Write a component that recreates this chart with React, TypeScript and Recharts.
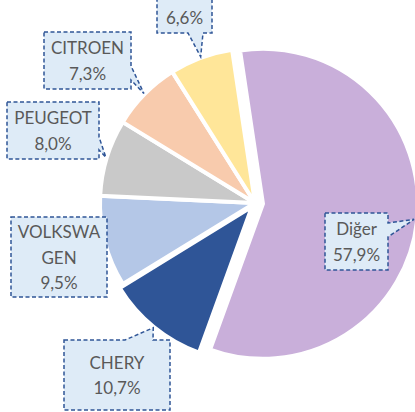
import { PieChart, Pie, Cell, Sector } from "recharts";

// market share by brand (%)
const BRANDS = ["Diğer", "CHERY", "VOLKSWAGEN", "PEUGEOT", "CITROEN", "OPEL"];
const SHARES = [57.9, 10.7, 9.5, 8.0, 7.3, 6.6];
const COLORS = ["#C9AFDA", "#2F5597", "#B4C7E7", "#C9C9C9", "#F8CBAD", "#FFE699"];
const EXPLODE = [8, 5, 0, 0, 0, 0];

const data = BRANDS.map((name, i) => ({ name, value: SHARES[i] }));

// callout boxes, placed relative to the pie centre; a/b = pointer base along the side
const BOXES: any[] = [
  { x: 70, y: 10, w: 63, h: 57, side: "right", a: 10, b: 24 },
  { x: -191, y: 137, w: 106, h: 70, side: "top", a: 61, b: 89 },
  { x: -244, y: 14, w: 96, h: 80, side: null, a: 0, b: 0 },
  { x: -248, y: -101, w: 92, h: 57, side: "right", a: 35, b: 48 },
  { x: -211, y: -171, w: 87, h: 57, side: "right", a: 34, b: 48 },
  { x: -98, y: -227, w: 55, h: 57, side: "bottom", a: 31, b: 46 },
];

const RAD = Math.PI / 180;
const LINE_H = 25.5;

function calloutPath(x: number, y: number, w: number, h: number, side: string | null, a: number, b: number, tx: number, ty: number) {
  const r = x + w;
  const btm = y + h;
  let d = `M${x},${y}`;
  if (side === "top") d += ` H${x + a} L${tx},${ty} L${x + b},${y}`;
  d += ` H${r}`;
  if (side === "right") d += ` V${y + a} L${tx},${ty} L${r},${y + b}`;
  d += ` V${btm}`;
  if (side === "bottom") d += ` H${x + b} L${tx},${ty} L${x + a},${btm}`;
  d += ` H${x}`;
  if (side === "left") d += ` V${y + b} L${tx},${ty} L${x},${y + a}`;
  return d + " Z";
}

function splitName(name: string) {
  if (name.length <= 8) return [name];
  const out: string[] = [];
  for (let i = 0; i < name.length; i += 7) out.push(name.slice(i, i + 7));
  return out;
}

const fmt = (v: number) => v.toFixed(1).replace(".", ",") + "%";

function renderLabel(props: any) {
  const { cx, cy, midAngle, innerRadius, outerRadius, startAngle, endAngle, index, name, value } = props;
  const cos = Math.cos(-midAngle * RAD);
  const sin = Math.sin(-midAngle * RAD);
  const ex = EXPLODE[index];
  const ox = cx + ex * cos;
  const oy = cy + ex * sin;
  const box = BOXES[index];
  const bx = cx + box.x;
  const by = cy + box.y;
  const tx = Math.min(ox + (outerRadius + 1) * cos, 414);
  const ty = oy + (outerRadius + 1) * sin;
  const lines = [...splitName(name), fmt(value)];
  const mid = by + box.h / 2;
  return (
    <g key={`lbl-${index}`}>
      {ex > 0 && (
        <Sector
          cx={ox}
          cy={oy}
          innerRadius={innerRadius}
          outerRadius={outerRadius}
          startAngle={startAngle}
          endAngle={endAngle}
          fill={COLORS[index]}
          stroke="#FFFFFF"
          strokeWidth={4}
        />
      )}
      <path
        d={calloutPath(bx, by, box.w, box.h, box.side, box.a, box.b, tx, ty)}
        fill="#DEEBF7"
        stroke="#2F5597"
        strokeWidth={1.5}
        strokeDasharray="4 2.5"
      />
      {lines.map((t, i) => {
        const y = mid + (i - (lines.length - 1) / 2) * LINE_H;
        // lines pushed past the top edge of the chart are not drawn (as in the original, where they are cut off)
        if (y < 8) return null;
        return (
          <text
            key={i}
            x={bx + box.w / 2}
            y={y}
            textAnchor="middle"
            dominantBaseline="central"
            fill="#595959"
            fontSize={17}
            fontFamily="Lato, 'Open Sans', sans-serif"
          >
            {t}
          </text>
        );
      })}
    </g>
  );
}

export default function App() {
  return (
    <div style={{ position: "absolute", left: 0, top: 0, width: 415, height: 412, background: "#fff" }}>
      <PieChart width={415} height={412} margin={{ top: 0, right: 0, bottom: 0, left: 0 }}>
        <Pie
          data={data}
          dataKey="value"
          nameKey="name"
          cx={255}
          cy={203}
          innerRadius={0}
          outerRadius={155}
          startAngle={98.5}
          endAngle={-261.5}
          stroke="#FFFFFF"
          strokeWidth={4}
          label={renderLabel}
          labelLine={false}
          isAnimationActive={false}
        >
          {data.map((d, i) => (
            <Cell
              key={d.name}
              fill={EXPLODE[i] > 0 ? "transparent" : COLORS[i]}
              stroke={EXPLODE[i] > 0 ? "none" : "#FFFFFF"}
            />
          ))}
        </Pie>
      </PieChart>
    </div>
  );
}
